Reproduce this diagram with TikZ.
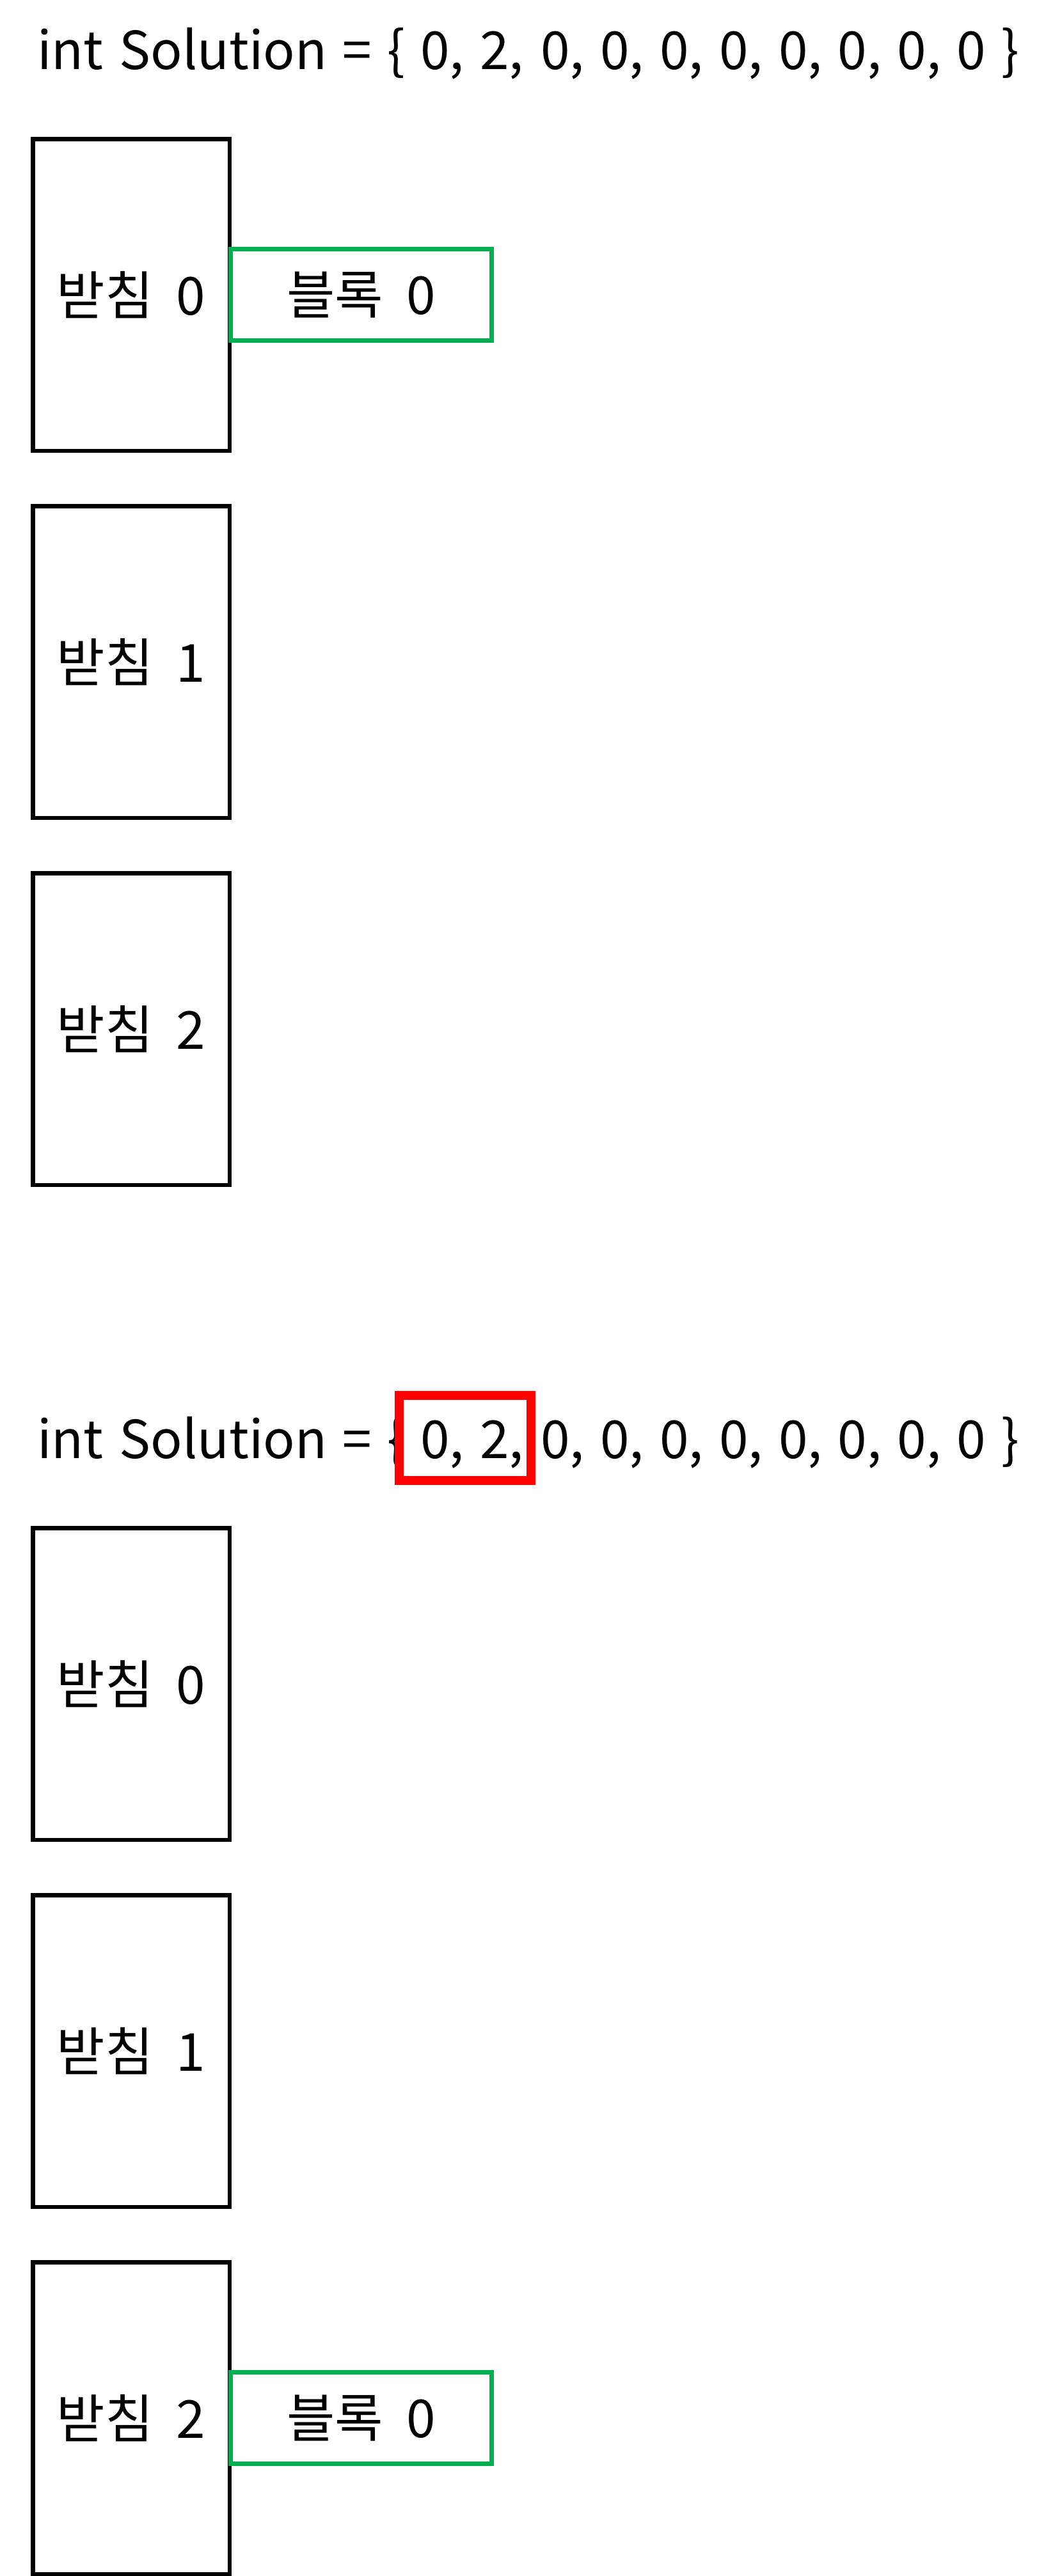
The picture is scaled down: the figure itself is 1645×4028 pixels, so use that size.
\documentclass[tikz,border=0pt]{standalone}
\usepackage{fontspec}
\setmainfont{Noto Sans CJK KR}
\newcommand\holdfont{\fontsize{41}{48}\selectfont\spaceskip 18pt\relax}
\newcommand\codefont{\fontsize{41}{48}\selectfont\spaceskip 12.3pt\relax}
\begin{document}
\begin{tikzpicture}[x=0.5pt,y=-0.5pt,
  hold/.style={draw=black, line width=3.25pt, minimum width=153.75pt, minimum height=243.75pt, inner sep=0pt, font=\holdfont},
  block/.style={draw={rgb,255:red,0;green,176;blue,80}, line width=3.5pt, minimum width=204pt, minimum height=71.5pt, inner sep=0pt, font=\holdfont},
  mark box/.style={draw={rgb,255:red,255;green,0;blue,0}, line width=7pt, minimum width=102.75pt, minimum height=66.5pt, inner sep=0pt},
  codeline/.style={anchor=base west, inner sep=0pt, font=\codefont}]
\useasboundingbox (0,0) rectangle (1645,4028);
\fill[white] (0,0) rectangle (1645,4028);
% top state
\node[codeline] (pre1) at (58,108) {int Solution = \{};
\node[codeline] (mid1) at (657,108) {0, 2,};
\node[codeline] (post1) at (845,108) {0, 0, 0, 0, 0, 0, 0, 0 \}};
\node[hold] (a0) at (205,461) {받침 0};
\node[hold] (a1) at (205,1035) {받침 1};
\node[hold] (a2) at (205,1609) {받침 2};
\node[block] (b0) at (564.5,461) {블록 0};
% bottom state
\node[codeline] (pre2) at (58,2280) {int Solution = \{};
\node[codeline] (mid2) at (657,2280) {0, 2,};
\node[codeline] (post2) at (845,2280) {0, 0, 0, 0, 0, 0, 0, 0 \}};
\node[mark box] (hl) at (726.75,2248.5) {};
\node[hold] (c0) at (205,2633) {받침 0};
\node[hold] (c1) at (205,3207) {받침 1};
\node[hold] (c2) at (205,3781) {받침 2};
\node[block] (d0) at (564.5,3781) {블록 0};
\end{tikzpicture}
\end{document}
